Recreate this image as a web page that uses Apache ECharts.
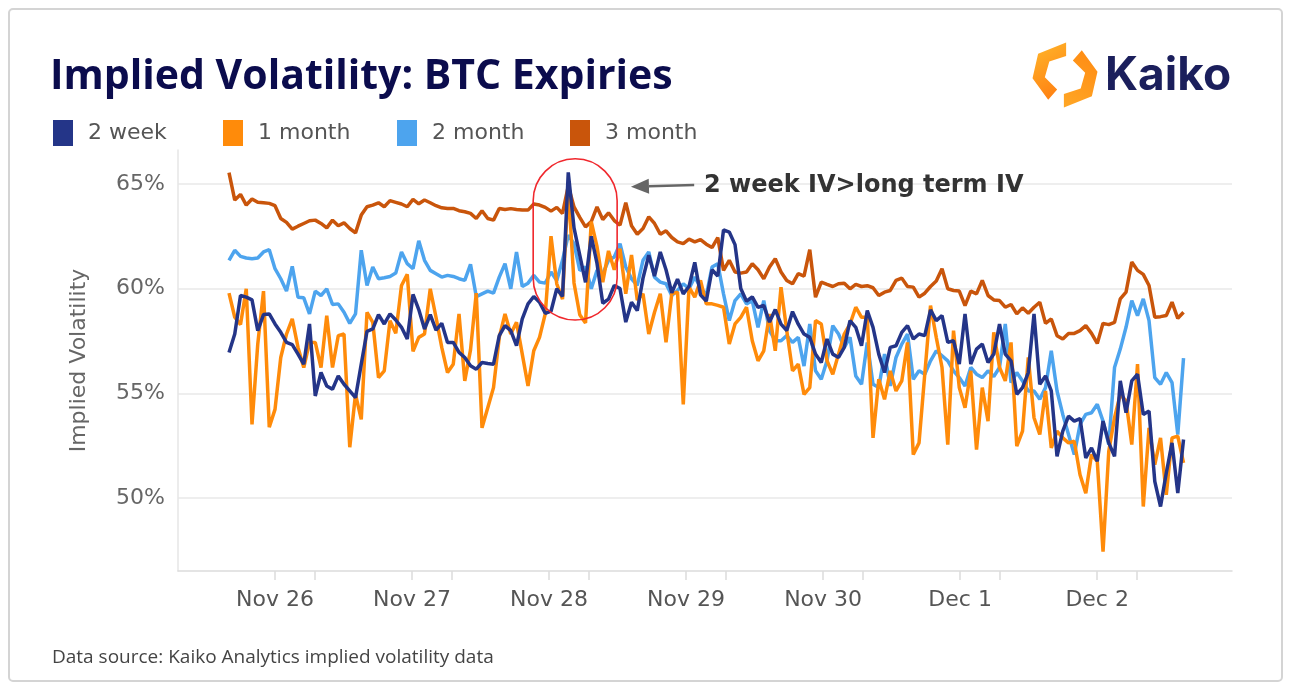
<!DOCTYPE html>
<html><head><meta charset="utf-8">
<script src="https://cdn.jsdelivr.net/npm/echarts@6/dist/echarts.min.js"></script>
<style>html,body{margin:0;padding:0;background:#fff}#c{width:1292px;height:690px}</style>
</head><body><div id="c"></div>
<script>
// ---- data (hourly samples, x = sample index) ----
const seriesNames = ['2 week', '1 month', '2 month', '3 month'];
const seriesColors = ['#243588', '#ff8b0a', '#4da4ee', '#c9550b'];

const week2 = [56.95,57.83,59.67,59.59,59.46,57.99,58.76,58.79,58.31,57.91,
57.43,57.32,56.87,56.39,58.31,54.87,55.99,55.35,55.19,55.83,
55.43,55.11,54.79,56.39,57.96,58.07,58.76,58.31,58.79,58.50,
58.15,57.59,59.72,59.00,58.07,58.76,58.02,58.34,57.43,57.43,
56.95,56.71,56.31,56.15,56.47,56.42,56.39,57.75,58.23,57.99,
57.27,58.55,59.27,59.62,59.35,58.82,58.92,59.99,59.62,65.55,
62.90,61.60,60.30,62.50,61.20,59.30,59.50,60.15,60.00,58.40,
59.35,58.95,60.50,61.60,60.60,61.75,60.90,59.80,60.45,59.75,
60.10,61.25,59.70,59.40,60.90,60.60,62.80,62.70,62.10,60.00,
59.40,59.60,59.10,59.20,58.40,59.00,58.30,58.00,58.90,58.30,
57.83,57.67,56.87,56.47,57.59,56.87,56.71,57.19,58.47,58.15,
57.27,58.95,58.15,56.87,55.99,57.19,57.27,57.91,58.23,57.59,
57.83,57.75,58.98,58.47,58.71,57.43,57.51,56.39,58.79,56.39,
57.11,57.35,56.47,56.87,58.31,56.87,56.55,54.95,55.27,55.99,
58.79,55.43,55.83,55.11,51.99,53.19,53.91,53.67,53.79,51.91,
52.39,51.75,53.67,52.63,51.99,55.59,54.07,55.59,55.91,53.99,
54.15,50.79,49.59,51.19,52.63,50.23,52.79];

const month1 = [59.78,58.63,58.28,59.99,53.51,57.35,59.88,53.38,54.23,56.71,
57.83,58.55,57.19,56.23,57.43,57.43,56.23,58.71,56.23,57.75,
57.83,52.42,54.95,53.75,58.87,58.39,55.75,56.07,58.47,57.86,
60.15,60.68,57.00,57.67,57.83,59.99,58.63,57.19,55.99,56.39,
58.79,55.59,57.07,59.78,53.35,54.31,55.27,57.67,58.79,57.83,
58.39,56.87,55.35,57.03,57.67,58.79,62.50,60.23,59.50,64.85,
60.27,58.75,58.36,63.20,62.00,60.30,61.80,60.90,61.90,59.75,
61.60,59.45,59.75,57.83,58.87,59.75,57.43,59.75,59.83,54.47,
60.07,59.59,60.39,59.27,59.27,59.20,59.11,57.35,58.31,58.63,
59.11,57.51,56.55,57.03,58.79,57.03,60.07,57.99,56.07,56.39,
54.95,55.27,58.47,58.31,56.55,55.91,56.87,57.83,58.31,59.11,
58.63,58.63,52.87,55.67,54.71,56.07,55.11,55.59,57.43,52.07,
52.63,55.91,59.19,57.67,56.23,52.55,57.99,55.27,54.31,56.07,
52.31,55.27,53.67,57.91,56.23,55.59,57.43,52.47,53.19,56.71,
53.83,53.03,55.11,52.39,53.19,52.87,52.63,52.71,51.11,50.23,
52.07,51.75,47.43,52.23,53.83,54.95,54.63,52.55,56.39,49.59,
53.35,51.59,52.87,50.15,52.87,52.95,51.67];

const month2 = [61.35,61.83,61.54,61.46,61.43,61.46,61.75,61.86,60.95,60.47,
59.88,61.06,59.59,59.56,58.79,59.88,59.67,59.99,59.24,59.27,
58.87,58.34,58.79,61.83,60.15,61.03,60.47,60.52,60.58,60.74,
61.75,61.19,60.95,62.28,61.35,60.87,60.71,60.55,60.63,60.58,
60.47,60.39,61.16,59.62,59.75,59.88,59.78,60.55,61.19,59.99,
61.75,60.10,60.26,60.63,60.31,60.26,60.79,60.39,61.35,62.55,
62.15,60.87,61.03,59.99,60.87,60.71,61.35,61.51,62.15,61.03,
60.47,60.15,61.35,61.75,60.55,60.31,60.23,59.67,59.91,60.23,
59.99,60.55,60.07,59.67,61.03,61.19,59.75,58.47,59.43,59.75,
59.27,59.43,58.15,59.43,57.99,57.51,57.51,57.75,57.43,57.67,
56.30,58.31,56.07,55.67,56.55,58.23,57.83,57.19,57.67,55.83,
55.43,57.43,55.43,55.27,56.87,55.35,56.71,57.35,57.83,55.67,
56.07,55.91,56.55,57.03,56.79,56.55,56.07,55.75,55.35,56.23,
55.91,55.75,56.07,55.80,56.23,58.31,55.51,55.99,55.59,55.11,
55.11,54.71,55.27,57.03,55.11,53.99,53.03,52.07,53.51,53.99,
54.07,54.47,53.67,52.55,56.23,57.11,58.15,59.43,58.71,59.51,
58.47,55.75,55.43,55.99,55.51,53.03,56.68];

const month3 = [65.54,64.23,64.50,63.99,64.28,64.12,64.10,64.07,63.96,63.35,
63.16,62.84,62.98,63.11,63.24,63.27,63.11,62.90,63.27,63.00,
63.14,62.87,62.66,63.51,63.91,63.99,64.10,63.91,64.20,64.12,
64.04,63.91,64.26,64.05,64.23,64.10,63.96,63.86,63.83,63.83,
63.72,63.67,63.59,63.35,63.72,63.35,63.27,63.83,63.78,63.82,
63.78,63.75,63.75,64.04,63.99,63.88,63.70,63.88,63.59,64.90,
63.90,63.40,62.95,63.20,63.90,63.30,63.62,63.25,63.03,64.10,
63.00,62.60,62.87,63.43,63.11,62.60,62.76,62.44,62.23,62.15,
62.36,62.23,62.34,62.12,61.96,62.44,60.87,61.35,60.79,60.74,
60.79,61.19,60.90,60.47,61.03,61.43,60.79,60.39,60.23,60.71,
60.60,61.86,59.59,60.31,60.20,60.10,60.23,60.26,59.99,60.20,
60.10,60.14,60.04,59.67,59.83,59.91,60.39,60.50,60.10,60.07,
59.59,59.78,60.10,60.36,60.95,59.99,59.91,59.88,59.19,59.88,
59.75,60.39,59.67,59.46,59.43,59.11,59.24,58.79,59.08,58.82,
59.11,59.35,58.34,58.55,57.75,57.59,57.86,57.86,57.99,58.23,
57.86,57.38,58.34,58.28,58.39,59.51,59.83,61.27,60.87,60.68,
60.15,58.63,58.66,58.71,59.35,58.58,58.87];

// x-axis: day ticks (sample-index positions) and labels
const dayTicks = [8.0, 31.83, 55.66, 79.49, 103.32, 127.15, 150.98];
const dayLabels = ['Nov 26', 'Nov 27', 'Nov 28', 'Nov 29', 'Nov 30', 'Dec 1', 'Dec 2'];
const minorTicks = [14.96, 38.79, 62.62, 86.45, 110.28, 134.11, 157.94];
const yTicks = [50, 55, 60, 65];

// annotation anchors in data coordinates
const highlightBox = { x0: 52.9, x1: 67.5, yTop: 66.2, yBottom: 58.5 };
const arrowTip = [69.9, 64.86];
const arrowTail = [80.9, 64.95];
const calloutPos = [82.6, 64.93];
const calloutText = '2 week IV>long term IV';

const toPairs = arr => arr.map((v, i) => [i, v]);
const dataByName = { '2 week': week2, '1 month': month1, '2 month': month2, '3 month': month3 };
const drawOrder = ['3 month', '2 month', '1 month', '2 week'];

const chart = echarts.init(document.getElementById('c'), null, { renderer: 'canvas' });
const FONT = 'DejaVu Sans';
const legendLefts = [48, 218, 392, 565];

const option = {
  animation: false,
  backgroundColor: '#ffffff',
  title: {
    text: 'Implied Volatility: BTC Expiries',
    left: 45, top: 52,
    textStyle: { fontFamily: 'Open Sans', fontWeight: 'bold', fontSize: 41, color: '#0b0c4d' }
  },
  legend: seriesNames.map((n, k) => ({
    data: [n],
    left: legendLefts[k], top: 115,
    icon: 'rect', itemWidth: 20, itemHeight: 26, itemGap: 0,
    selectedMode: false,
    textStyle: { fontFamily: FONT, fontSize: 22, color: '#555', padding: [0, 0, 0, 10] }
  })),
  grid: { left: 178, right: 60, top: 150, bottom: 119 },
  xAxis: {
    type: 'value', min: -8.87, max: 174.43,
    axisLine: { show: true, onZero: false, lineStyle: { color: '#dcdcdc', width: 1.5 } },
    axisTick: { show: true, length: 9, customValues: dayTicks.concat(minorTicks), lineStyle: { color: '#dcdcdc', width: 1.5 } },
    axisLabel: {
      customValues: dayTicks, margin: 18,
      fontFamily: FONT, fontSize: 22, color: '#555',
      formatter: v => { const k = dayTicks.findIndex(t => Math.abs(t - v) < 0.01); return k >= 0 ? dayLabels[k] : ''; }
    },
    splitLine: { show: false }
  },
  yAxis: {
    type: 'value', min: 46.51, max: 66.62,
    name: 'Implied Volatility', nameLocation: 'middle', nameGap: 88, nameRotate: 90,
    nameTextStyle: { fontFamily: FONT, fontSize: 22, color: '#666' },
    axisLine: { show: true, onZero: false, lineStyle: { color: '#e6e6e6', width: 1.5 } },
    axisTick: { show: false, customValues: yTicks },
    axisLabel: { customValues: yTicks, formatter: '{value}%', margin: 13, fontFamily: FONT, fontSize: 22, color: '#666' },
    splitLine: { show: true, lineStyle: { color: '#e8e8e8', width: 1.5 } }
  },
  series: drawOrder.map(name => ({
    name, type: 'line', data: toPairs(dataByName[name]),
    showSymbol: false, symbol: 'none',
    color: seriesColors[seriesNames.indexOf(name)],
    lineStyle: { width: 3.5, color: seriesColors[seriesNames.indexOf(name)] },
    emphasis: { disabled: true }
  }))
};
chart.setOption(option);

// ---- annotations & decorations ----
const px = p => chart.convertToPixel({ gridIndex: 0 }, p);
const b0 = px([highlightBox.x0, highlightBox.yTop]);
const b1 = px([highlightBox.x1, highlightBox.yBottom]);
const tip = px(arrowTip), tail = px(arrowTail), cp = px(calloutPos);
const bw = b1[0] - b0[0], bh = b1[1] - b0[1];
const ang = Math.atan2(tail[1] - tip[1], tail[0] - tip[0]);
const headLen = 18, headHalf = 7.5;
const base = [tip[0] + headLen * Math.cos(ang), tip[1] + headLen * Math.sin(ang)];
const nx = -Math.sin(ang), ny = Math.cos(ang);

// logo geometry (relative to logo centre)
const lc = [1065, 75];
const logoScale = 1.12;
const leftPiece = [[1, -29], [-24, -19], [-29, 3], [-15, 22], [-7, 13], [-18, 2], [-14, -12], [1, -17]];
const rightPiece = leftPiece.map(([x, y]) => [-x, -y]);
const abs = pts => pts.map(([x, y]) => [lc[0] + x * logoScale, lc[1] + y * logoScale]);
const logoGrad = new echarts.graphic.LinearGradient(0, 0, 1, 1, [
  { offset: 0, color: '#ffb72b' }, { offset: 1, color: '#ff7a0f' }
]);
const logoGrad2 = new echarts.graphic.LinearGradient(1, 0, 0, 1, [
  { offset: 0, color: '#ff8a12' }, { offset: 1, color: '#ffa726' }
]);

chart.setOption({
  graphic: [
    { type: 'rect', silent: true, shape: { x: 9, y: 9, width: 1273, height: 672, r: 4 },
      style: { fill: 'none', stroke: '#d4d4d4', lineWidth: 2 }, z: 0 },
    { type: 'rect', silent: true, shape: { x: b0[0], y: b0[1], width: bw, height: bh, r: bw / 2 },
      style: { fill: 'none', stroke: '#f0282d', lineWidth: 1.6 }, z: 100 },
    { type: 'line', silent: true, shape: { x1: base[0], y1: base[1], x2: tail[0], y2: tail[1] },
      style: { stroke: '#666', lineWidth: 2.5 }, z: 100 },
    { type: 'polygon', silent: true, shape: { points: [tip,
        [base[0] + nx * headHalf, base[1] + ny * headHalf],
        [base[0] - nx * headHalf, base[1] - ny * headHalf]] },
      style: { fill: '#666' }, z: 100 },
    { type: 'text', silent: true, x: cp[0], y: cp[1],
      style: { text: calloutText, fontFamily: FONT, fontWeight: 'bold', fontSize: 24, fill: '#333', verticalAlign: 'middle', align: 'left' }, z: 100 },
    { type: 'text', silent: true, x: 52, y: 658,
      style: { text: 'Data source: Kaiko Analytics implied volatility data', fontFamily: 'Open Sans', fontSize: 19, fill: '#444', verticalAlign: 'middle' } },
    { type: 'polygon', silent: true, shape: { points: abs(leftPiece) }, style: { fill: logoGrad } },
    { type: 'polygon', silent: true, shape: { points: abs(rightPiece) }, style: { fill: logoGrad2 } },
    { type: 'text', silent: true, x: 1105, y: 76,
      style: { text: 'Kaiko', fontFamily: 'Inter', fontWeight: 'bold', fontSize: 46, fill: '#1b1f5c', verticalAlign: 'middle' } }
  ]
});
</script>
</body></html>
